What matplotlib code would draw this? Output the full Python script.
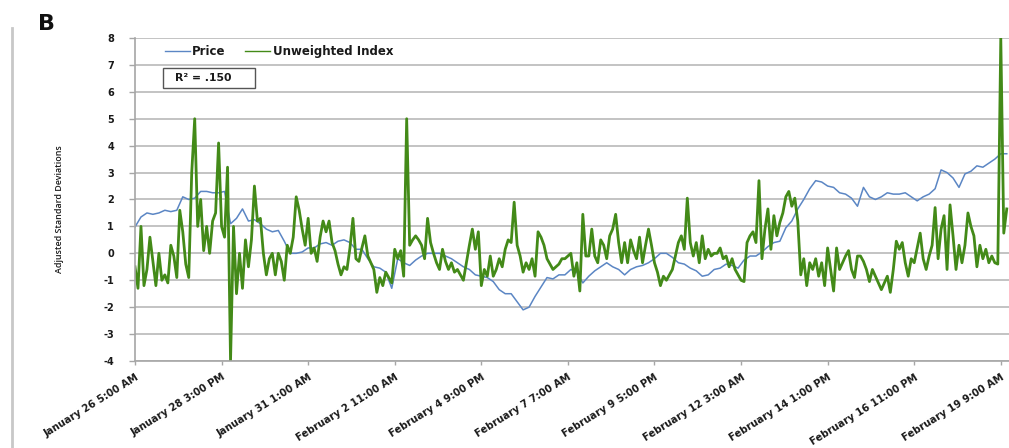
import matplotlib
matplotlib.use("Agg")
import matplotlib.pyplot as plt
from matplotlib.lines import Line2D
from matplotlib.patches import Rectangle
import pandas as pd

# Hourly-stamped series, Jan 26 5:00 AM onward
start_time = "2013-01-26 05:00"

# Unweighted index, one reading every 2 hours (adjusted standard deviations)
index_values = [
    -0.5, -1.3, 1.0, -1.2, -0.6, 0.6, -0.3, -1.2, 0.0, -1.0,
    -0.8, -1.1, 0.3, -0.1, -0.9, 1.6, 0.8, -0.4, -0.9, 3.0,
    5.0, 1.0, 2.0, 0.1, 1.0, 0.0, 1.2, 1.5, 4.1, 1.0,
    0.6, 3.2, -4.0, 1.0, -1.5, 0.0, -1.3, 0.5, -0.5, 0.5,
    2.5, 1.2, 1.3, 0.0, -0.8, -0.2, 0.0, -0.8, 0.0, -0.3,
    -1.0, 0.3, 0.0, 0.6, 2.1, 1.6, 0.9, 0.3, 1.3, 0.0,
    0.2, -0.3, 0.6, 1.2, 0.8, 1.2, 0.4, 0.1, -0.4, -0.8,
    -0.5, -0.6, 0.2, 1.3, -0.2, -0.3, 0.2, 0.65, -0.1, -0.35,
    -0.6, -1.45, -0.9, -1.2, -0.7, -0.9, -1.1, 0.15, -0.2, 0.1,
    -0.85, 5.0, 0.3, 0.5, 0.65, 0.5, 0.3, -0.2, 1.3, 0.4,
    0.0, -0.35, -0.6, 0.15, -0.3, -0.6, -0.35, -0.7, -0.6, -0.8,
    -1.0, -0.35, 0.3, 0.9, 0.15, 0.8, -1.2, -0.6, -0.85, -0.1,
    -0.85, -0.6, -0.2, -0.5, 0.15, 0.5, 0.4, 1.9, 0.3, -0.1,
    -0.7, -0.35, -0.6, -0.2, -0.85, 0.8, 0.6, 0.3, -0.2, -0.4,
    -0.6, -0.5, -0.4, -0.2, -0.2, -0.1, 0.0, -0.85, -0.35, -1.4,
    1.45, -0.1, -0.1, 0.9, -0.1, -0.35, 0.5, 0.3, -0.2, 0.65,
    0.9, 1.45, 0.4, -0.35, 0.4, -0.35, 0.5, 0.1, -0.2, 0.6,
    -0.35, 0.3, 0.9, 0.3, -0.35, -0.7, -1.2, -0.85, -1.0, -0.8,
    -0.6, -0.1, 0.4, 0.65, 0.15, 2.05, 0.4, -0.1, 0.4, -0.35,
    0.65, -0.2, 0.15, -0.1, 0.0, 0.0, 0.2, -0.2, -0.1, -0.5,
    -0.2, -0.6, -0.8, -1.0, -1.05, 0.4, 0.65, 0.8, 0.4, 2.7,
    -0.2, 0.9, 1.65, 0.15, 1.4, 0.65, 1.15, 1.5, 2.1, 2.3,
    1.75, 2.05, 1.2, -0.8, -0.2, -1.2, -0.35, -0.6, -0.2, -0.85,
    -0.35, -1.2, 0.2, -0.6, -1.4, 0.2, -0.6, -0.35, -0.1, 0.1,
    -0.6, -0.9, -0.1, -0.1, -0.3, -0.6, -1.05, -0.6, -0.85, -1.1,
    -1.35, -1.1, -0.85, -1.45, -0.6, 0.45, 0.15, 0.4, -0.35, -0.85,
    -0.2, -0.35, 0.2, 0.75, -0.2, -0.6, -0.1, 0.3, 1.7, -0.2,
    0.9, 1.4, -0.6, 1.8, 0.65, -0.6, 0.3, -0.35, 0.3, 1.5,
    1.0, 0.65, -0.5, 0.3, -0.2, 0.15, -0.35, -0.1, -0.35, -0.4,
    8.0, 0.75, 1.65,
]

# Price, one reading every 4 hours (adjusted standard deviations)
price_values = [
    0.98, 1.35, 1.5, 1.45, 1.5, 1.6, 1.55, 1.6, 2.1, 2.0,
    2.05, 2.3, 2.3, 2.25, 2.25, 2.3, 1.1, 1.3, 1.65, 1.2,
    1.25, 1.1, 0.9, 0.8, 0.85, 0.45, 0.0, 0.0, 0.05, 0.2,
    0.2, 0.35, 0.4, 0.3, 0.45, 0.5, 0.4, 0.15, 0.15, -0.2,
    -0.5, -0.55, -0.7, -1.3, -0.2, -0.35, -0.45, -0.25, -0.1, 0.0,
    0.0, 0.0, -0.1, -0.2, -0.35, -0.5, -0.6, -0.8, -0.85, -0.9,
    -1.05, -1.35, -1.5, -1.5, -1.8, -2.1, -2.0, -1.6, -1.25, -0.9,
    -0.95, -0.8, -0.8, -0.6, -0.7, -1.1, -0.85, -0.65, -0.5, -0.35,
    -0.5, -0.6, -0.8, -0.6, -0.5, -0.45, -0.35, -0.2, 0.0, 0.0,
    -0.15, -0.35, -0.4, -0.55, -0.65, -0.85, -0.8, -0.6, -0.55, -0.4,
    -0.45, -0.55, -0.25, -0.1, -0.1, 0.05, 0.25, 0.4, 0.45, 0.95,
    1.2, 1.65, 2.0, 2.4, 2.7, 2.65, 2.5, 2.45, 2.25, 2.2,
    2.05, 1.75, 2.45, 2.1, 2.0, 2.1, 2.25, 2.2, 2.2, 2.25,
    2.1, 1.95, 2.1, 2.2, 2.4, 3.1, 3.0, 2.8, 2.45, 2.95,
    3.05, 3.25, 3.2, 3.35, 3.5, 3.7, 3.7,
]

series_labels = ["Price", "Unweighted Index"]
y_ticks = list(range(-4, 9))
r_squared_text = "R² = .150"
y_label = "Adjusted Standard Deviations"
panel_letter = "B"

t0 = pd.Timestamp(start_time)
index_times = pd.date_range(t0, periods=len(index_values), freq="2h")
price_times = pd.date_range(t0, periods=len(price_values), freq="4h")
tick_times = pd.date_range(t0, periods=11, freq="58h")


def stamp(t):
    hour = t.hour % 12 or 12
    return f"{t:%B} {t.day} {hour}:{t:%M} {t:%p}"


FONT = "DejaVu Sans"
TEXT_COLOR = "#1a1a1a"

W, H = 1009, 448
fig = plt.figure(figsize=(W / 100, H / 100), dpi=100)
ax = fig.add_axes([135 / W, 1 - 361 / H, 874 / W, 323 / H])

grid_color = "#b9b9b9"
ax.set_ylim(-4, 8)
ax.set_yticks(y_ticks)
ax.yaxis.grid(True, color=grid_color, linewidth=1.2)
ax.set_axisbelow(True)

price_line, = ax.plot(price_times, price_values, color="#5b86c4", linewidth=1.1,
                      label=series_labels[0])
index_line, = ax.plot(index_times, index_values, color="#438a18", linewidth=2.0,
                      label=series_labels[1])

ax.set_xlim(t0, t0 + pd.Timedelta(hours=585.5))
ax.set_xticks(tick_times)
ax.set_xticklabels([stamp(t) for t in tick_times], rotation=32, ha="right",
                   va="top", rotation_mode="anchor", fontsize=7.2,
                   fontweight="bold", family=FONT, color=TEXT_COLOR)
ax.set_yticklabels([str(v) for v in y_ticks], fontsize=7, fontweight="bold",
                   family=FONT, color=TEXT_COLOR)

for side in ("top", "right"):
    ax.spines[side].set_visible(False)
for side in ("left", "bottom"):
    ax.spines[side].set_color("#a6a6a6")
    ax.spines[side].set_linewidth(1.2)
ax.tick_params(axis="y", length=4, width=1.0, color="#a6a6a6", pad=11)
ax.tick_params(axis="x", length=3, width=1.0, color="#a6a6a6", pad=5)

ax.set_ylabel(y_label, fontsize=6.4, family="Open Sans", fontweight="semibold",
              color=TEXT_COLOR)
ax.yaxis.set_label_coords(-0.081, 0.47)

leg = ax.legend(handles=[price_line, index_line], loc="upper left",
                bbox_to_anchor=(0.034, 0.978), ncol=2, frameon=False,
                borderpad=0, borderaxespad=0, handlelength=2.1,
                handletextpad=0.2, columnspacing=1.7,
                prop={"family": FONT, "weight": "bold", "size": 8.5})
for h in leg.legend_handles:
    h.set_linewidth(1.0)
for txt in leg.get_texts():
    txt.set_color(TEXT_COLOR)

ax.add_patch(Rectangle((0.032, 0.845), 0.105, 0.062, transform=ax.transAxes,
                       facecolor="white", edgecolor="#555555", linewidth=1.0,
                       zorder=5))
ax.text(0.046, 0.876, r_squared_text, transform=ax.transAxes, va="center",
        ha="left", fontsize=7.8, fontweight="bold", family=FONT,
        color=TEXT_COLOR, zorder=6)

fig.text(38 / W, 1 - 30 / H, panel_letter, fontsize=16, fontweight="bold",
         family="DejaVu Sans", color="#111111", va="baseline")
fig.add_artist(Line2D([12 / W, 12 / W], [0, 1 - 28 / H], color="#c8c8c8",
                      linewidth=2.0, transform=fig.transFigure))

fig.savefig("out.png", dpi=100, facecolor="white")
